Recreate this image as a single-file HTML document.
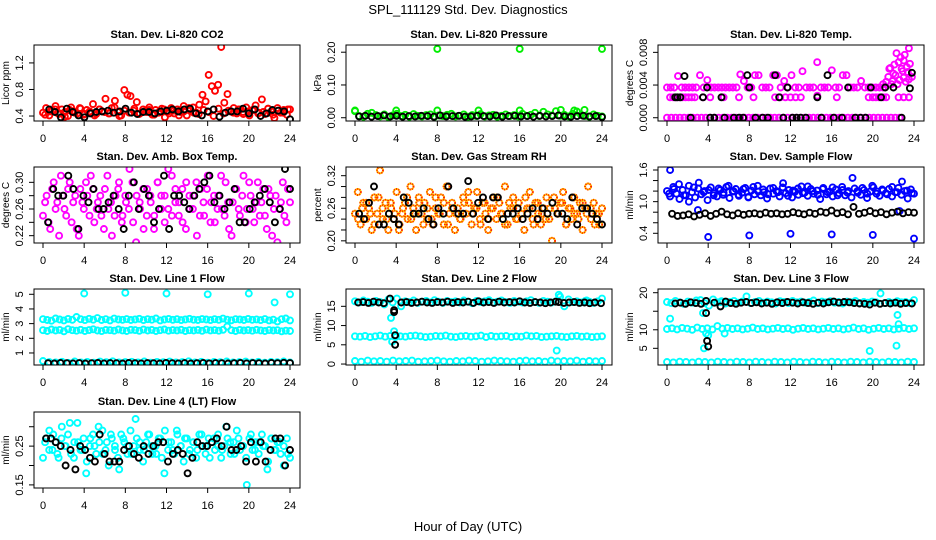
<!DOCTYPE html>
<html><head><meta charset="utf-8">
<style>
html,body{margin:0;padding:0;background:#fff;}
svg{display:block;font-family:"Liberation Sans",sans-serif;}
</style></head>
<body>
<svg id="chart" width="936" height="540" viewBox="0 0 936 540" xmlns="http://www.w3.org/2000/svg">
<rect width="936" height="540" fill="#fff"/>
<text x="468" y="14" text-anchor="middle" font-size="13">SPL_111129  Std. Dev. Diagnostics</text>
<text x="468" y="531" text-anchor="middle" font-size="13">Hour of Day (UTC)</text>
</svg>
<script>
// ---- data ----
const xTicks=[0,4,8,12,16,20,24];
const co2Red=[0.45,0.52,0.41,0.48,0.55,0.43,0.50,0.46,0.40,0.53,0.47,0.44,0.51,0.42,0.49,0.45,0.58,0.43,0.50,0.47,0.66,0.44,0.52,0.63,0.46,0.41,0.79,0.72,0.70,0.48,0.61,0.44,0.50,0.46,0.53,0.42,0.49,0.45,0.51,0.38,0.47,0.52,0.44,0.50,0.46,0.55,0.41,0.48,0.53,0.45,0.57,0.72,0.62,1.02,0.85,0.78,0.87,1.44,0.60,0.73,0.47,0.52,0.44,0.50,0.46,0.53,0.41,0.49,0.56,0.45,0.65,0.43,0.51,0.47,0.37,0.52,0.45,0.49,0.42,0.50];
const co2Red2=[0.42,0.47,0.50,0.44,0.39,0.49,0.45,0.52,0.43,0.47,0.41,0.50,0.46,0.44,0.53,0.40,0.48,0.45,0.51,0.43,0.47,0.49,0.42,0.46,0.50,0.44,0.48,0.41,0.47,0.52,0.45,0.43,0.49,0.46,0.40,0.51,0.44,0.48,0.45,0.50,0.43,0.47,0.49,0.44,0.46,0.51,0.42,0.48,0.45,0.50];
const co2Black=[0.50,0.46,0.38,0.51,0.46,0.41,0.38,0.44,0.46,0.47,0.48,0.45,0.47,0.51,0.45,0.43,0.46,0.46,0.44,0.47,0.48,0.50,0.47,0.50,0.51,0.44,0.41,0.47,0.50,0.39,0.45,0.47,0.47,0.51,0.44,0.50,0.40,0.44,0.49,0.48,0.47,0.35];
const presGreen=[0.020,0.005,0.003,0.012,0.015,0.008,0.004,0.010,0.002,0.007,0.012,0.005,0.009,0.003,0.011,0.006,0.004,0.008,0.010,0.003,0.007,0.005,0.009,0.012,0.004,0.006,0.010,0.003,0.008,0.005,0.011,0.004,0.007,0.009,0.003,0.006,0.010,0.005,0.008,0.004,0.012,0.006,0.009,0.015,0.005,0.018,0.010,0.007,0.020,0.006,0.009,0.004,0.012,0.019,0.008,0.005,0.003,0.010,0.006,0.004];
const presOutHours=[0,4,8,12,16,20,21.3,22.3,8,16,24];
const presOutVals=[0.022,0.022,0.022,0.022,0.022,0.024,0.022,0.024,0.21,0.21,0.21];
const presBlack=[0.004,0.006,0.003,0.005,0.007,0.004,0.006,0.003,0.005,0.004,0.006,0.005,0.003,0.007,0.004,0.005,0.006,0.003,0.004,0.006,0.005,0.004,0.007,0.003,0.005,0.006,0.004,0.005,0.003,0.006,0.004,0.005,0.007,0.004,0.003,0.005,0.006,0.004,0.005,0.002];
const tempZero=[0,0,0,0,0,0,0,0,0,0,0,0,0,0,0,0,0,0,0,0,0,0,0,0,0,0,0,0,0,0,0,0,0,0,0,0,0,0,0,0,0,0,0,0,0,0,0,0,0,0,0,0,0,0,0];
const tempMid=[0.0037,0.0037,0.0037,0.0051,0.0037,0.0037,0.0037,0.0037,0.0037,0.0052,0.0037,0.0046,0.0037,0.0037,0.0037,0.0037,0.0037,0.0037,0.0037,0.0037,0.0053,0.0045,0.0037,0.0037,0.0052,0.0052,0.0037,0.0037,0.0037,0.0052,0.0052,0.0037,0.0045,0.0037,0.0052,0.0037,0.0037,0.0057,0.0037,0.0037,0.0037,0.0068,0.0037,0.0037,0.0037,0.0058,0.0037,0.0037,0.0052,0.0052,0.0037,0.0037,0.0037,0.0045,0.0037,0.0037,0.0037,0.0037,0.0037,0.0037];
const tempLowHours=[0.3,0.6,0.9,1.2,1.5,1.8,2.1,2.4,2.7,3.5,4.2,5.5,7,8.4,10.5,11,11.5,12,12.5,13,14.6,16.5,19.6,20,20.3,20.6,21,21.3,22.5,23,23.5];
const tempLowVals=[0.0025,0.0025,0.0025,0.0025,0.0025,0.0025,0.0025,0.0025,0.0025,0.0025,0.0025,0.0025,0.0025,0.0025,0.0025,0.0025,0.0025,0.0025,0.0025,0.0025,0.0027,0.0025,0.0025,0.0025,0.0025,0.0025,0.0025,0.0025,0.0025,0.0025,0.0025];
const tempEndHours=[21.0,21.3,21.6,21.9,22.1,22.3,22.5,22.7,22.9,23.1,23.3,23.5,21.5,21.8,22.2,22.6,23.0,23.4,23.6,22.4,22.8,23.2,21.7,22.0,23.0,23.5,23.8];
const tempEndVals=[0.0041,0.0044,0.0060,0.0045,0.0065,0.0079,0.0068,0.0074,0.0057,0.0077,0.0062,0.0085,0.0050,0.0041,0.0052,0.0046,0.0049,0.0056,0.0066,0.0041,0.0060,0.0044,0.0061,0.0054,0.0070,0.0047,0.0050];
const tempBlackHours=[0.8,1.0,1.3,1.7,2.3,3.5,3.9,4.2,4.6,5.3,5.6,6.5,7.0,7.4,7.8,8.0,8.6,9.3,9.8,10.5,10.9,11.3,11.7,12.2,12.6,13.0,13.5,14.6,15.0,15.6,16.2,17.0,17.6,18.3,18.8,19.3,19.8,20.8,21.2,22.0,22.8,23.6,23.8];
const tempBlackVals=[0.0025,0.0025,0.0025,0.0051,0,0.0025,0.0037,0,0,0.0025,0,0,0,0,0.0052,0.0037,0,0,0,0.0052,0.0025,0,0.0037,0,0,0,0,0.0025,0,0.0052,0,0,0.0037,0,0,0,0.0037,0.0025,0.0037,0.0037,0,0.0036,0.0055];
const ambMag=[0.25,0.28,0.23,0.30,0.27,0.31,0.26,0.29,0.24,0.28,0.22,0.27,0.30,0.25,0.29,0.26,0.28,0.23,0.31,0.27,0.25,0.29,0.24,0.28,0.26,0.30,0.21,0.27,0.29,0.25,0.28,0.23,0.30,0.26,0.28,0.32,0.25,0.29,0.27,0.24,0.30,0.26,0.28,0.22,0.29,0.25,0.31,0.27,0.24,0.28,0.26,0.30,0.23,0.27,0.29,0.25,0.31,0.26,0.28,0.24,0.30,0.27,0.25,0.29,0.22,0.28,0.26,0.30,0.24,0.27];
const ambMag2=[0.27,0.24,0.29,0.26,0.22,0.28,0.25,0.30,0.27,0.23,0.29,0.26,0.28,0.31,0.24,0.27,0.25,0.29,0.26,0.22,0.28,0.30,0.25,0.27,0.32,0.24,0.28,0.26,0.23,0.29,0.27,0.25,0.30,0.28,0.24,0.26,0.31,0.27,0.25,0.29,0.23,0.28,0.26,0.30,0.25,0.27,0.29,0.24,0.28,0.26,0.31,0.25,0.27,0.22,0.29,0.26,0.28,0.24,0.30,0.26,0.27,0.25,0.29,0.23,0.28,0.26,0.21,0.27,0.25,0.29];
const ambBlack=[0.24,0.29,0.28,0.28,0.31,0.29,0.23,0.28,0.27,0.29,0.26,0.26,0.27,0.28,0.26,0.23,0.28,0.30,0.26,0.29,0.28,0.24,0.26,0.31,0.23,0.28,0.28,0.27,0.26,0.28,0.29,0.30,0.31,0.27,0.28,0.26,0.27,0.29,0.24,0.24,0.26,0.27,0.28,0.29,0.27,0.24,0.26,0.32,0.29];
const rhOrange=[0.25,0.29,0.23,0.27,0.24,0.26,0.22,0.28,0.25,0.33,0.24,0.27,0.22,0.26,0.24,0.29,0.23,0.25,0.27,0.24,0.30,0.26,0.22,0.28,0.25,0.27,0.24,0.29,0.23,0.26,0.25,0.28,0.23,0.30,0.25,0.27,0.22,0.26,0.24,0.28,0.25,0.27,0.23,0.26,0.29,0.24,0.27,0.25,0.22,0.26,0.28,0.24,0.27,0.25,0.30,0.23,0.26,0.28,0.24,0.27,0.25,0.22,0.26,0.29,0.24,0.27,0.25,0.23,0.26,0.28,0.24,0.20,0.26,0.25,0.27,0.29,0.23,0.26,0.24,0.28,0.25,0.27,0.22,0.26,0.30,0.24,0.27,0.25,0.23,0.26];
const rhOrange2=[0.24,0.26,0.27,0.25,0.23,0.28,0.26,0.24,0.27,0.25,0.22,0.26,0.28,0.24,0.25,0.27,0.23,0.26,0.24,0.28,0.25,0.27,0.23,0.26,0.25,0.24,0.27,0.29,0.25,0.26,0.23,0.27,0.24,0.26,0.28,0.25,0.23,0.27,0.26,0.24,0.25,0.28,0.26,0.23,0.27,0.25,0.24,0.26,0.28,0.25,0.27,0.23,0.26,0.25,0.24,0.27,0.25,0.26,0.23,0.25];
const rhBlack=[0.25,0.24,0.27,0.30,0.23,0.23,0.25,0.24,0.23,0.28,0.27,0.25,0.25,0.26,0.24,0.23,0.26,0.25,0.30,0.26,0.25,0.25,0.31,0.25,0.27,0.28,0.24,0.28,0.28,0.24,0.25,0.25,0.26,0.24,0.25,0.26,0.24,0.26,0.25,0.27,0.25,0.25,0.24,0.28,0.23,0.26,0.26,0.25,0.24,0.23];
const sfBlue=[1.20,1.10,1.28,1.15,1.05,1.22,1.12,1.30,1.18,1.08,1.25,1.14,1.20,1.03,1.27,1.16,1.10,1.22,1.13,1.28,1.07,1.19,1.24,1.11,1.17,1.26,1.09,1.21,1.14,1.30,1.12,1.18,1.06,1.25,1.15,1.20,1.10,1.27,1.16,1.22,1.08,1.19,1.13,1.29,1.17,1.11,1.24,1.15,1.21,1.05,1.26,1.14,1.19,1.10,1.23,1.16,1.28,1.12,1.20,1.08,1.25,1.17,1.13,1.22,1.07,1.19,1.27,1.15,1.11,1.21,1.16,1.24,1.10,1.18,1.26,1.13,1.20,1.06,1.23,1.15];
const sfBlue2=[1.15,1.24,1.33,1.12,1.00,1.27,1.36,1.18,1.22,1.12,1.25,1.17,1.30,1.20,1.13,1.24,1.08,1.28,1.19,1.23,1.14,1.26,1.18,1.35,1.11,1.21,1.25,1.16,1.29,1.20,1.13,1.24,1.18,1.27,1.12,1.22,1.17,1.45,1.20,1.26,1.15,1.30,1.19,1.23,1.14,1.28,1.18,1.38,1.21,1.16];
const sfOutHours=[0.3,4,8,12,16,20,24,3.0,22.6];
const sfOutVals=[1.60,0.33,0.36,0.39,0.38,0.37,0.30,0.84,0.82];
const sfBlack=[0.77,0.73,0.74,0.76,0.72,0.75,0.78,0.73,0.77,0.81,0.76,0.74,0.78,0.75,0.77,0.78,0.76,0.79,0.77,0.78,0.76,0.77,0.80,0.78,0.76,0.79,0.77,0.81,0.79,0.83,0.78,0.80,0.76,0.90,0.77,0.79,0.82,0.78,0.80,0.76,0.79,0.81,0.78,0.80,0.79];
const l1Top=[3.30,3.25,3.20,3.35,3.28,3.22,3.32,3.26,3.45,3.30,3.24,3.33,3.27,3.38,3.25,3.30,3.22,3.34,3.28,3.26,3.31,3.25,3.29,3.33,3.24,3.30,3.27,3.35,3.22,3.28,3.32,3.26,3.30,3.24,3.29,3.33,3.27,3.25,3.31,3.28,3.24,3.30,3.26,3.34,3.27,3.23,3.30,3.28,3.25,3.32,3.26,3.29,3.24,3.31,3.22,3.27,3.15,3.30,3.35,3.22];
const l1Mid=[2.55,2.50,2.60,2.53,2.57,2.48,2.62,2.55,2.52,2.58,2.50,2.56,2.61,2.53,2.49,2.57,2.55,2.52,2.60,2.54,2.50,2.58,2.56,2.51,2.59,2.53,2.57,2.50,2.55,2.60,2.52,2.56,2.54,2.58,2.50,2.55,2.53,2.57,2.51,2.59,2.54,2.56,2.52,2.58,2.80,2.55,2.50,2.57,2.53,2.56,2.52,2.58,2.54,2.50,2.56,2.53,2.55,2.48,2.52,2.50];
const l1Low=[0.45,0.38,0.35,0.40,0.33,0.42,0.36,0.39,0.34,0.41,0.37,0.43,0.35,0.38,0.40,0.36,0.42,0.34,0.39,0.37,0.41,0.35,0.38,0.43,0.36,0.40,0.34,0.39,0.37,0.42,0.35,0.38,0.41,0.36,0.40,0.34,0.39,0.37,0.42,0.35];
const l1OutHours=[4,8,12,16,20,22.5,24];
const l1OutVals=[5.05,5.1,5.05,5.0,5.05,4.45,5.0];
const l1Black=[0.30,0.28,0.32,0.30,0.29,0.31,0.28,0.30,0.32,0.29,0.31,0.30,0.28,0.32,0.30,0.29,0.31,0.30,0.28,0.32,0.30,0.29,0.31,0.28,0.30,0.32,0.29,0.31,0.30,0.28,0.30,0.32,0.29,0.31,0.30,0.28,0.32,0.30,0.33,0.31];
const l2Top=[16.3,16.0,16.5,16.2,15.9,16.4,16.1,15.5,16.8,16.0,17.0,15.0,16.3,16.1,16.5,15.9,16.2,16.4,16.0,16.6,16.2,15.9,16.4,16.1,16.3,16.0,16.5,16.2,15.8,16.4,16.1,16.3,16.6,16.0,16.2,16.5,16.1,15.9,16.4,16.2,16.0,16.3,16.6,16.1,15.9,16.4,16.2,16.0,16.3,17.5,15.0,16.8,16.1,16.3,16.0,16.4,16.2,15.9,16.3,17.0];
const l2Mid=[7.2,7.1,7.3,7.0,7.2,7.4,7.1,7.3,7.0,7.2,7.1,7.3,7.4,7.2,7.0,7.1,7.3,7.2,7.4,7.1,7.0,7.2,7.3,7.1,7.2,7.4,7.0,7.3,7.1,7.2,7.3,7.0,7.2,7.1,7.4,7.2,7.3,7.0,7.1,7.2,7.3,7.1,7.0,7.2,7.3,7.1,7.2,7.0,7.1,7.2];
const l2Low=[0.8,0.6,0.9,0.7,0.8,0.6,0.9,0.7,0.8,0.9,0.6,0.7,0.8,0.9,0.7,0.6,0.8,0.7,0.9,0.8,0.6,0.7,0.9,0.8,0.7,0.6,0.8,0.9,0.7,0.8,0.6,0.9,0.7,0.8,0.7,0.9,0.6,0.8,0.7,0.8];
const l2OutHours=[3.5,3.6,3.8,4.0,19.6,19.8,22.5];
const l2OutVals=[12.0,5.8,8.5,7.3,3.5,18.0,16.5];
const l2BlackHours=[0.3,0.8,1.3,1.8,2.3,2.8,3.4,3.8,3.8,3.9,3.9,4.5,5.0,5.5,6.0,6.5,7.0,7.5,8.0,8.5,9.0,9.5,10.0,10.5,11.0,11.5,12.0,12.5,13.0,13.5,14.0,14.5,15.0,15.5,16.0,16.5,17.0,17.5,18.0,18.5,19.0,19.5,19.8,20.3,20.8,21.3,21.8,22.3,22.8,23.3,23.9];
const l2BlackVals=[16.0,16.1,15.9,16.2,16.0,15.8,17.0,14.0,13.5,7.5,5.0,16.0,16.1,15.9,16.0,16.2,16.0,15.9,16.1,16.0,16.2,15.9,16.1,16.0,16.2,15.9,16.3,16.0,16.1,15.9,16.2,16.0,16.1,16.0,16.3,16.0,15.9,16.1,16.0,15.8,16.0,16.2,16.1,15.9,16.0,16.1,15.9,16.0,15.8,16.0,15.8];
const l3Top=[17.5,17.2,17.8,17.4,17.0,17.6,17.3,17.9,18.0,17.2,16.5,18.2,17.4,17.7,17.1,17.5,17.8,17.3,17.6,19.0,17.2,17.5,17.8,17.3,17.6,17.4,17.1,17.7,17.5,17.2,17.8,17.4,17.6,17.3,17.5,17.9,17.2,17.6,17.4,17.7,17.3,17.5,17.1,17.6,17.4,17.8,17.2,17.5,17.3,17.6,17.4,19.8,17.2,17.5,17.3,17.7,17.4,17.5,17.2,18.0];
const l3Mid=[10.2,10.4,10.1,10.5,10.3,10.0,10.6,10.2,10.4,10.1,11.0,10.3,10.5,10.2,10.4,10.1,10.3,10.6,10.2,10.4,10.1,10.3,10.5,10.2,10.4,10.0,10.3,10.5,10.2,10.4,10.1,10.3,10.5,10.2,10.4,10.1,10.3,10.6,10.2,10.4,10.0,10.3,10.5,10.2,10.4,10.1,10.3,10.5,10.2,10.4];
const l3Low=[1.3,1.2,1.4,1.3,1.2,1.4,1.3,1.2,1.4,1.3,1.2,1.4,1.3,1.2,1.4,1.3,1.2,1.4,1.3,1.2,1.4,1.3,1.2,1.4,1.3,1.2,1.4,1.3,1.2,1.4,1.3,1.2,1.4,1.3,1.2,1.4,1.3,1.2,1.4,1.3];
const l3OutHours=[0.3,3.5,3.6,3.8,4.0,5.2,5.6,19.7,22.3,22.4,22.5];
const l3OutVals=[13.0,14.5,5.0,9.0,8.5,17.5,9.0,4.3,5.7,14.0,11.5];
const l3BlackHours=[0.8,1.3,1.8,2.3,2.8,3.3,3.8,3.8,3.9,4.0,4.6,5.2,5.7,6.2,6.7,7.2,7.7,8.2,8.7,9.2,9.7,10.2,10.7,11.2,11.7,12.2,12.7,13.2,13.7,14.2,14.7,15.2,15.7,16.2,16.7,17.2,17.7,18.2,18.7,19.2,19.7,20.2,20.7,21.2,21.7,22.2,22.7,23.2,23.8];
const l3BlackVals=[17.1,17.3,17.0,17.4,17.2,17.0,17.8,14.5,7.0,5.5,17.3,16.3,17.6,17.2,17.0,17.3,17.5,17.2,17.4,17.1,17.3,17.0,17.4,17.2,17.5,17.3,17.1,17.4,17.2,17.0,17.3,17.1,17.4,17.6,17.3,17.5,17.4,17.2,17.1,17.0,16.8,17.3,17.0,17.2,17.1,17.3,17.0,17.2,17.1];
const l4Cyan=[0.22,0.27,0.29,0.24,0.26,0.22,0.30,0.25,0.28,0.23,0.26,0.31,0.24,0.27,0.21,0.25,0.28,0.23,0.26,0.29,0.24,0.20,0.27,0.25,0.22,0.28,0.26,0.23,0.29,0.25,0.27,0.24,0.21,0.26,0.28,0.23,0.25,0.27,0.22,0.29,0.24,0.26,0.23,0.28,0.25,0.21,0.27,0.24,0.26,0.22,0.28,0.25,0.23,0.27,0.26,0.24,0.28,0.22,0.25,0.27,0.23,0.26,0.29,0.24,0.25,0.22,0.27,0.24,0.26,0.23,0.28,0.25,0.21,0.27,0.24,0.26,0.23,0.25,0.27,0.22];
const l4Cyan2=[0.26,0.24,0.28,0.23,0.27,0.25,0.31,0.22,0.26,0.24,0.18,0.27,0.25,0.30,0.23,0.26,0.28,0.24,0.19,0.27,0.25,0.23,0.32,0.26,0.24,0.28,0.25,0.23,0.27,0.18,0.26,0.24,0.29,0.25,0.27,0.23,0.26,0.24,0.28,0.25,0.22,0.27,0.25,0.24,0.30,0.26,0.23,0.27,0.25,0.15,0.28,0.24,0.26,0.25,0.19,0.27,0.24,0.26,0.20,0.23];
const l4Black=[0.27,0.27,0.26,0.25,0.20,0.24,0.19,0.25,0.24,0.22,0.21,0.28,0.23,0.21,0.21,0.21,0.24,0.25,0.23,0.22,0.25,0.23,0.25,0.26,0.26,0.21,0.23,0.24,0.23,0.18,0.22,0.26,0.25,0.25,0.26,0.27,0.25,0.30,0.24,0.24,0.25,0.21,0.26,0.21,0.26,0.21,0.24,0.27,0.27,0.20,0.24];

// ---- layout / helpers ----
const NS='http://www.w3.org/2000/svg';
const svg=document.getElementById('chart');
function el(tag,attrs,parent){const e=document.createElementNS(NS,tag);for(const k in attrs)e.setAttribute(k,attrs[k]);(parent||svg).appendChild(e);return e;}
function evenHours(arr,h0,h1){return arr.map((v,i)=>h0+(arr.length>1?i*(h1-h0)/(arr.length-1):0));}

const panels=[
 {c:0,r:0,name:'co2',title:'Stan. Dev. Li-820 CO2',ylab:'Licor ppm',usr:[0.325,1.47],ticks:[0.4,0.8,1.2],labels:['0.4','0.8','1.2'],
  series:[{h:evenHours(co2Red,0,24),v:co2Red,col:'#ff0000'},{h:evenHours(co2Red2,0.2,23.8),v:co2Red2,col:'#ff0000'},{h:evenHours(co2Black,0.6,24),v:co2Black,col:'#000'}]},
 {c:1,r:0,name:'pressure',title:'Stan. Dev. Li-820 Pressure',ylab:'kPa',usr:[-0.01,0.222],ticks:[0,0.1,0.2],labels:['0.00','0.10','0.20'],
  series:[{h:evenHours(presGreen,0,24),v:presGreen,col:'#00ee00'},{h:presOutHours,v:presOutVals,col:'#00ee00'},{h:evenHours(presBlack,0.4,24),v:presBlack,col:'#000'}]},
 {c:2,r:0,name:'temp',title:'Stan. Dev. Li-820 Temp.',ylab:'degrees C',usr:[-0.0004,0.0089],ticks:[0,0.004,0.008],labels:['0.000','0.004','0.008'],
  series:[{h:evenHours(tempZero,0,22.6),v:tempZero,col:'#ff00ff'},{h:evenHours(tempMid,0,21),v:tempMid,col:'#ff00ff'},{h:tempLowHours,v:tempLowVals,col:'#ff00ff'},{h:tempEndHours,v:tempEndVals,col:'#ff00ff'},{h:tempBlackHours,v:tempBlackVals,col:'#000'}]},
 {c:0,r:1,name:'ambbox',title:'Stan. Dev. Amb. Box Temp.',ylab:'degrees C',usr:[0.209,0.323],ticks:[0.22,0.24,0.26,0.28,0.30],labels:['0.22','','0.26','','0.30'],
  series:[{h:evenHours(ambMag,0,24),v:ambMag,col:'#ff00ff'},{h:evenHours(ambMag2,0.2,23.8),v:ambMag2,col:'#ff00ff'},{h:evenHours(ambBlack,0.5,24),v:ambBlack,col:'#000'}]},
 {c:1,r:1,name:'rh',title:'Stan. Dev. Gas Stream RH',ylab:'percent',usr:[0.196,0.336],ticks:[0.20,0.22,0.24,0.26,0.28,0.30,0.32],labels:['0.20','','','0.26','','','0.32'],
  series:[{h:evenHours(rhOrange,0,24),v:rhOrange,col:'#ffcc00',dot:true},{h:evenHours(rhOrange2,0.3,23.7),v:rhOrange2,col:'#ffcc00',dot:true},{h:evenHours(rhBlack,0.4,24),v:rhBlack,col:'#000'}]},
 {c:2,r:1,name:'sampleflow',title:'Stan. Dev. Sample Flow',ylab:'ml/min',usr:[0.216,1.657],ticks:[0.4,0.6,0.8,1.0,1.2,1.4,1.6],labels:['0.4','','','1.0','','','1.6'],
  series:[{h:evenHours(sfBlue,0,24),v:sfBlue,col:'#0000ff'},{h:evenHours(sfBlue2,0.2,23.8),v:sfBlue2,col:'#0000ff'},{h:sfOutHours,v:sfOutVals,col:'#0000ff'},{h:evenHours(sfBlack,0.5,24),v:sfBlack,col:'#000'}]},
 {c:0,r:2,name:'line1',title:'Stan. Dev. Line 1 Flow',ylab:'ml/min',usr:[0.18,5.36],ticks:[1,2,3,4,5],labels:['1','2','3','4','5'],
  series:[{h:evenHours(l1Top,0,24),v:l1Top,col:'#00ffff'},{h:evenHours(l1Mid,0,24),v:l1Mid,col:'#00ffff'},{h:evenHours(l1Low,0,24),v:l1Low,col:'#00ffff'},{h:l1OutHours,v:l1OutVals,col:'#00ffff'},{h:evenHours(l1Black,0.5,24),v:l1Black,col:'#000'}]},
 {c:1,r:2,name:'line2',title:'Stan. Dev. Line 2 Flow',ylab:'ml/min',usr:[-0.25,19.5],ticks:[0,5,10,15],labels:['0','5','10','15'],
  series:[{h:evenHours(l2Top,0,24),v:l2Top,col:'#00ffff'},{h:evenHours(l2Mid,0,24),v:l2Mid,col:'#00ffff'},{h:evenHours(l2Low,0,24),v:l2Low,col:'#00ffff'},{h:l2OutHours,v:l2OutVals,col:'#00ffff'},{h:l2BlackHours,v:l2BlackVals,col:'#000'}]},
 {c:2,r:2,name:'line3',title:'Stan. Dev. Line 3 Flow',ylab:'ml/min',usr:[0.5,21],ticks:[5,10,15,20],labels:['5','10','','20'],
  series:[{h:evenHours(l3Top,0,24),v:l3Top,col:'#00ffff'},{h:evenHours(l3Mid,0,24),v:l3Mid,col:'#00ffff'},{h:evenHours(l3Low,0,24),v:l3Low,col:'#00ffff'},{h:l3OutHours,v:l3OutVals,col:'#00ffff'},{h:l3BlackHours,v:l3BlackVals,col:'#000'}]},
 {c:0,r:3,name:'line4',title:'Stan. Dev. Line 4 (LT) Flow',ylab:'ml/min',usr:[0.142,0.338],ticks:[0.15,0.20,0.25,0.30],labels:['0.15','','0.25',''],
  series:[{h:evenHours(l4Cyan,0,24),v:l4Cyan,col:'#00ffff'},{h:evenHours(l4Cyan2,0.2,23.8),v:l4Cyan2,col:'#00ffff'},{h:evenHours(l4Black,0.3,24),v:l4Black,col:'#000'}]}
];

panels.forEach(p=>{
  const bx=34+312*p.c, bw=266, by=45+122*p.r+(p.r===3?1:0), bh=76;
  const x0=43+312*p.c, xs=247/24;
  const X=h=>x0+h*xs;
  const Y=v=>by+bh-(v-p.usr[0])/(p.usr[1]-p.usr[0])*bh;
  const g=el('g',{});
  
  
  const t=el('text',{x:bx+bw/2,y:by-7,'text-anchor':'middle','font-size':'11','font-weight':'bold'},g);
  t.textContent=p.title;
  
  
  const clip=el('clipPath',{id:'clip'+p.name},g);
  el('rect',{x:bx,y:by,width:bw,height:bh},clip);
  const pts=el('g',{'clip-path':'url(#clip'+p.name+')'},g);
  
  
  p.series.forEach(s=>{
    s.v.forEach((v,i)=>{
      const c=el('circle',{cx:X(s.h[i]).toFixed(1),cy:Y(v).toFixed(1),r:3,fill:'none',stroke:s.col,'stroke-width':1.9},pts);
      
      
      if(s.dot){
        const d=el('circle',{cx:X(s.h[i]).toFixed(1),cy:Y(v).toFixed(1),r:3,fill:'none',stroke:'#ff2000','stroke-width':1.9,'stroke-dasharray':'1 1.2'},pts);
        
        
      }
    });
  });
  const box=el('rect',{x:bx,y:by,width:bw,height:bh,fill:'none',stroke:'#000','stroke-width':1},g);
  
  
  const xa=el('g',{},g);
  
  
  el('line',{x1:X(0),x2:X(24),y1:by+bh,y2:by+bh,stroke:'#000'},xa);
  xTicks.forEach(h=>{
    el('line',{x1:X(h),x2:X(h),y1:by+bh,y2:by+bh+5,stroke:'#000'},xa);
    const l=el('text',{x:X(h),y:by+bh+21,'text-anchor':'middle','font-size':'11'},xa);
    l.textContent=h;
  });
  const ya=el('g',{},g);
  
  
  el('line',{x1:bx,x2:bx,y1:Y(p.ticks[0]),y2:Y(p.ticks[p.ticks.length-1]),stroke:'#000'},ya);
  p.ticks.forEach((v,i)=>{
    el('line',{x1:bx-5,x2:bx,y1:Y(v),y2:Y(v),stroke:'#000'},ya);
    if(p.labels[i]){
      const l=el('text',{x:bx-11,y:Y(v),'text-anchor':'middle','font-size':'11',transform:'rotate(-90 '+(bx-11)+' '+Y(v)+')'},ya);
      l.textContent=p.labels[i];
    }
  });
  const yt=el('text',{x:bx-25,y:by+bh/2,'text-anchor':'middle','font-size':'10',transform:'rotate(-90 '+(bx-25)+' '+(by+bh/2)+')'},g);
  yt.textContent=p.ylab;
  
  
});
</script>
</body></html>
